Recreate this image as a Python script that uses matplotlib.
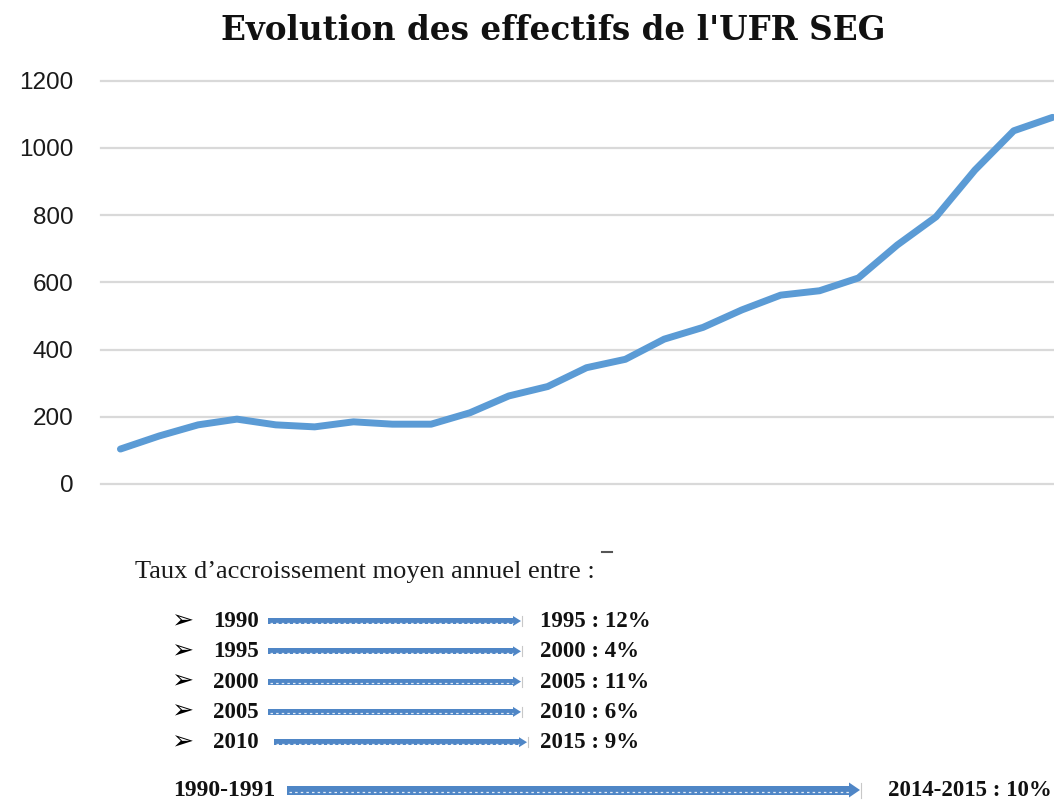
import matplotlib
matplotlib.use("Agg")
import matplotlib.pyplot as plt
from matplotlib.patches import Polygon, Rectangle
from matplotlib.lines import Line2D

# effectifs annuels (1990-1991 ... 2014-2015)
annees = [f"{a}-{a + 1}" for a in range(1990, 2015)]
effectifs = [104, 143, 176, 193, 176, 170, 185, 178, 178, 212,
             262, 290, 346, 371, 431, 466, 518, 562, 575, 613,
             711, 795, 934, 1051, 1091]
yticks = [0, 200, 400, 600, 800, 1000, 1200]

# taux d'accroissement moyen annuel
debut = ["1990", "1995", "2000", "2005", "2010"]
fin = ["1995", "2000", "2005", "2010", "2015"]
taux = ["12%", "4%", "11%", "6%", "9%"]
global_debut, global_fin, global_taux = "1990-1991", "2014-2015", "10%"

W, H = 1054, 800
fig = plt.figure(figsize=(W / 100, H / 100), dpi=100)

# --- graphique ---
ax = fig.add_axes([101 / W, 1 - 484 / H, 971 / W, 403.3 / H])
ax.plot(range(len(effectifs)), effectifs, color="#5B9BD5", lw=5,
        solid_joinstyle="round", solid_capstyle="round", zorder=3)
ax.set_xlim(-0.5, len(effectifs) - 0.5)
ax.set_ylim(0, 1200)
ax.set_yticks(yticks)
ax.set_xticks([])
for v in yticks:
    ax.axhline(v, color="#d9d9d9", lw=1.6, zorder=1, clip_on=False)
for s in ax.spines.values():
    s.set_visible(False)
ax.tick_params(axis="y", length=0, pad=20, labelsize=17.5, labelcolor="#1a1a1a")
for lab in ax.get_yticklabels():
    lab.set_fontfamily("Liberation Sans")

fig.text(553 / W, 1 - 40 / H, "Evolution des effectifs de l'UFR SEG",
         ha="center", va="baseline", fontsize=23.5, fontweight="bold",
         family="DejaVu Serif", color="#111111")

# --- texte du bas (coordonnées en pixels) ---
ov = fig.add_axes([0, 0, 1, 1], facecolor="none")
ov.set_xlim(0, W)
ov.set_ylim(H, 0)
ov.axis("off")

blue = "#4F86C6"


def fleche(x0, x1, yc, h, hw, hl):
    ov.add_patch(Rectangle((x0, yc - h / 2), x1 - hl - x0, h, color=blue, lw=0))
    ov.add_patch(Polygon([(x1 - hl, yc - hw / 2), (x1, yc), (x1 - hl, yc + hw / 2)],
                         closed=True, color=blue, lw=0))
    ov.add_line(Line2D([x0 + 2, x1 - hl], [yc + h / 4, yc + h / 4], color="white",
                       lw=0.9, alpha=0.85, dashes=(2, 2.5)))
    ov.plot([x1 + 1, x1 + 1], [yc - hw / 2, yc + hw / 2], color="#c8c8c8", lw=0.8)


ov.text(135, 578, "Taux d\u2019accroissement moyen annuel entre :", fontsize=19,
        family="Liberation Serif", color="#1a1a1a", va="baseline")
ov.plot([602, 612], [552, 552], color="#555555", lw=1.5)

bold = dict(fontsize=16.5, family="Liberation Serif", fontweight="bold",
            color="#111111", va="baseline")
for i, (d, f, t) in enumerate(zip(debut, fin, taux)):
    yb = 627 + i * 30.3
    ov.text(171, yb + 1, "\u27a2", fontsize=19, family="DejaVu Sans",
            fontweight="bold", color="#000000", va="baseline")
    ov.text(213, yb, d, **bold)
    x0, x1 = (268, 521) if i < 4 else (274, 527)
    fleche(x0, x1, yb - 6, 6, 10, 8)
    ov.text(540, yb, f"{f} : {t}", **bold)

ov.text(173, 796, global_debut, fontsize=17, family="Liberation Serif",
        fontweight="bold", color="#111111", va="baseline")
fleche(287, 860, 790, 9, 15, 11)
ov.text(888, 796, f"{global_fin} : {global_taux}", fontsize=16.5,
        family="Liberation Serif", fontweight="bold", color="#111111", va="baseline")

fig.savefig("out.png", dpi=100)
